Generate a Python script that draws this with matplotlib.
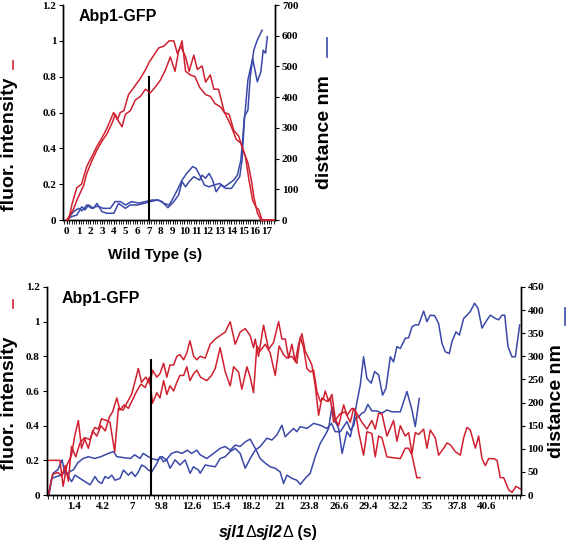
import numpy as np
import matplotlib
matplotlib.use('Agg')
import matplotlib.pyplot as plt
from matplotlib.lines import Line2D
from matplotlib.offsetbox import TextArea, HPacker, AnchoredOffsetbox

plt.rcParams['font.family'] = 'Liberation Serif'
plt.rcParams['font.weight'] = 'bold'

RED = '#cf2030'
BLUE = '#3a48a8'

#----------------------------------------
# Wild type (top panel): fluorescence intensity (left) and distance nm (right)
wt_red1_t = [0, 0.15, 0.45, 0.85, 1.25, 1.7, 2.1, 2.55, 3.0, 3.4, 3.98, 4.3,
             4.55, 4.85, 5.25, 5.7, 6.25, 6.7, 7.0, 7.4, 7.8, 8.25, 8.7, 9.1,
             9.4, 9.7, 10.1, 10.4, 10.8, 11.1, 11.5, 11.8, 12.2, 12.5, 12.9,
             13.4, 13.8, 14.2, 14.6, 14.9, 15.2, 15.5, 15.8, 16.1, 16.3, 16.6,
             17.6]
wt_red1 = [0, 0.0, 0.09, 0.18, 0.2, 0.3, 0.35, 0.41, 0.46, 0.51, 0.6, 0.56,
           0.6, 0.61, 0.7, 0.74, 0.79, 0.84, 0.88, 0.92, 0.96, 0.97, 1.0, 1.0,
           0.93, 0.97, 0.91, 0.83, 0.92, 0.84, 0.86, 0.77, 0.81, 0.73, 0.73,
           0.6, 0.59, 0.5, 0.47, 0.41, 0.35, 0.22, 0.11, 0.07, 0.06, 0.0, 0.0]

wt_red2_t = [0, 0.57, 0.85, 1.13, 1.42, 1.7, 2.13, 2.56, 2.99, 3.41, 3.84,
             4.12, 4.41, 4.7, 4.98, 5.4, 5.83, 6.26, 6.69, 7.1, 7.5, 7.95, 8.4,
             8.8, 9.2, 9.5, 9.8, 10.1, 10.5, 10.9, 11.3, 11.8, 12.2, 12.6,
             13.1, 13.5, 14.0, 14.4, 14.8, 15.1, 15.4, 15.7, 15.9, 16.2, 16.5,
             17.6]
wt_red2 = [0, 0.06, 0.11, 0.15, 0.19, 0.26, 0.33, 0.39, 0.44, 0.48, 0.54,
           0.59, 0.55, 0.52, 0.59, 0.61, 0.67, 0.69, 0.73, 0.71, 0.74, 0.78,
           0.84, 0.91, 0.83, 0.94, 1.0, 0.83, 0.81, 0.80, 0.74, 0.70, 0.69,
           0.65, 0.63, 0.59, 0.52, 0.45, 0.43, 0.37, 0.32, 0.22, 0.13, 0.04,
           0.0, 0.0]

wt_blue1_t = [0, 0.57, 1.0, 1.3, 1.7, 2.1, 2.6, 3.1, 3.7, 4.1, 4.55, 5.0, 5.5,
              6.1, 6.7, 7.25, 7.8, 8.25, 8.7, 8.95, 9.4, 9.8, 10.2, 10.7,
              11.0, 11.3, 11.7, 12.1, 12.5, 13.0, 13.4, 13.8, 14.2, 14.5,
              14.8, 14.95, 15.1, 15.4, 15.6, 15.9, 16.2, 16.6]
wt_blue1 = [0, 27, 38, 30, 49, 38, 45, 38, 38, 60, 60, 49, 60, 55, 60, 65, 65,
            54, 49, 65, 98, 130, 152, 174, 168, 146, 114, 108, 114, 119, 108,
            119, 130, 146, 195, 260, 336, 358, 467, 553, 586, 618]

wt_blue2_t = [0, 0.4, 0.85, 1.27, 1.56, 1.85, 2.27, 2.56, 3.0, 3.4, 4.0, 4.4,
              4.98, 5.4, 6.0, 6.55, 7.1, 7.7, 8.1, 8.6, 9.1, 9.5, 9.8, 10.1,
              10.4, 10.8, 11.3, 11.5, 11.8, 12.1, 12.4, 12.7, 13.1, 13.5,
              14.0, 14.4, 14.7, 14.9, 15.1, 15.4, 15.8, 16.2, 16.5, 16.7,
              16.9, 17.05]
wt_blue2 = [0, 11, 16, 43, 33, 49, 38, 54, 27, 22, 22, 54, 38, 49, 49, 54, 60,
            65, 60, 40, 60, 81, 125, 108, 125, 141, 130, 146, 136, 152, 130,
            92, 114, 103, 103, 125, 141, 195, 325, 456, 526, 450, 483, 553,
            543, 597]

wt_marker_t = 7.0
wt_marker_top = 0.8
wt_ticks = list(range(0, 18))

#----------------------------------------
# sjl1 sjl2 mutant (bottom panel)
mut_red1_t = [-1.16, -0.4, 0.1, 0.4, 0.75, 1.2, 1.5, 1.85, 2.15, 2.5, 2.95,
              3.4, 3.75, 4.05, 4.5, 4.85, 5.3, 5.65, 6.1, 6.45, 6.9, 7.25,
              7.55, 7.85, 8.25, 8.65, 8.9, 9.3, 9.6, 9.95, 10.25, 10.55, 10.9,
              11.2, 11.5, 11.85, 12.15, 12.45, 12.8, 13.1, 13.42, 13.9, 14.37,
              14.85, 15.32, 15.8, 16.27, 16.75, 17.22, 17.7, 18.17, 18.49,
              18.65, 18.96, 19.44, 19.92, 20.39, 20.87, 21.18, 21.5, 21.82,
              22.13, 22.45, 22.77, 23.08, 23.4, 23.72, 24.03, 24.35, 24.67,
              24.98, 25.46, 25.78, 26.1, 26.73, 27.2, 27.68, 28.0, 28.31,
              28.78, 29.26, 29.73, 30.05, 30.37, 30.68, 31.16, 31.79, 32.11,
              32.43, 32.9, 33.22, 33.54, 33.85, 34.17, 34.65, 34.96, 35.28,
              35.75, 36.07, 36.55, 36.86, 37.18, 37.66, 38.13, 38.45, 38.76,
              39.08, 39.56, 39.87, 40.19, 40.51, 40.82, 41.3, 41.62, 41.93,
              42.25, 42.73, 43.04, 43.42, 43.83]
mut_red1 = [0.20, 0.20, 0.20, 0.05, 0.17, 0.23, 0.34, 0.43, 0.27, 0.33, 0.32,
            0.39, 0.38, 0.44, 0.43, 0.42, 0.25, 0.50, 0.49, 0.53, 0.58, 0.66,
            0.73, 0.65, 0.68, 0.64, 0.72, 0.68, 0.70, 0.76, 0.68, 0.75, 0.75,
            0.80, 0.81, 0.78, 0.82, 0.89, 0.80, 0.78, 0.80, 0.79, 0.87, 0.90,
            0.92, 0.94, 1.0, 0.87, 0.94, 0.96, 0.92, 0.85, 0.90, 0.80, 0.98,
            0.84, 0.88, 1.0, 0.90, 0.90, 0.79, 0.87, 0.77, 0.87, 0.93, 0.83,
            0.79, 0.75, 0.63, 0.46, 0.56, 0.54, 0.56, 0.42, 0.47, 0.48, 0.42,
            0.50, 0.47, 0.42, 0.38, 0.43, 0.38, 0.47, 0.47, 0.34, 0.43, 0.31,
            0.40, 0.34, 0.36, 0.24, 0.36, 0.35, 0.38, 0.27, 0.375, 0.33, 0.23,
            0.27, 0.30, 0.29, 0.25, 0.23, 0.33, 0.39, 0.375, 0.27, 0.34, 0.21,
            0.17, 0.21, 0.21, 0.20, 0.10, 0.10, 0.03, 0.015, 0.05, 0.035]

mut_red2_t = [-1.0, -0.6, -0.1, 0.3, 0.6, 0.9, 1.2, 1.6, 2.0, 2.4, 2.8, 3.2,
              3.6, 4.0, 4.4, 4.8, 5.1, 5.5, 5.8, 6.2, 6.6, 7.0, 7.4, 7.8, 8.2,
              8.6, 8.9, 9.3, 9.6, 9.95, 10.25, 10.55, 10.9, 11.2, 11.5, 11.85,
              12.15, 12.45, 12.8, 13.1, 13.45, 13.73, 14.05, 14.5, 14.85,
              15.32, 15.8, 16.27, 16.6, 17.06, 17.38, 17.86, 18.17, 18.49,
              18.8, 19.12, 19.6, 20.07, 20.55, 20.92, 21.34, 21.66, 22.13,
              22.6, 22.93, 23.24, 23.56, 23.87, 24.2, 24.5, 24.83, 25.14, 25.3,
              25.62, 25.94, 26.25, 26.57, 27.05, 27.36, 27.84, 28.15, 28.47,
              28.94, 29.26, 29.73, 30.05, 30.37, 30.68, 31.16, 32.43, 32.9,
              33.22, 33.54, 34.0, 34.3]
mut_red2 = [0.0, 0.12, 0.13, 0.11, 0.17, 0.08, 0.28, 0.22, 0.30, 0.33, 0.27,
            0.37, 0.34, 0.40, 0.37, 0.45, 0.48, 0.56, 0.49, 0.52, 0.50, 0.55,
            0.60, 0.64, 0.62, 0.68, 0.53, 0.59, 0.56, 0.66, 0.58, 0.63, 0.60,
            0.65, 0.69, 0.69, 0.74, 0.66, 0.70, 0.72, 0.68, 0.67, 0.66, 0.69,
            0.73, 0.85, 0.71, 0.63, 0.74, 0.71, 0.61, 0.74, 0.68, 0.59, 0.86,
            0.83, 0.87, 0.82, 0.69, 0.86, 0.81, 0.79, 0.80, 0.76, 0.91, 0.85,
            0.73, 0.71, 0.72, 0.60, 0.54, 0.56, 0.60, 0.54, 0.58, 0.44, 0.40,
            0.52, 0.46, 0.50, 0.49, 0.365, 0.23, 0.365, 0.355, 0.22, 0.34,
            0.33, 0.22, 0.21, 0.27, 0.27, 0.23, 0.10, 0.10]

mut_blue1_t = [-1.0, -0.55, -0.1, 0.3, 0.6, 1.0, 1.4, 1.8, 2.3, 2.8, 3.4, 4.0,
               4.7, 5.2, 5.5, 6.1, 6.8, 7.2, 7.7, 8.0, 8.5, 8.8, 9.3, 9.8,
               10.2, 10.7, 11.2, 11.7, 12.2, 12.6, 13.1, 13.42, 14.05, 14.69,
               15.32, 15.8, 16.27, 16.75, 17.22, 17.7, 18.17, 18.65, 19.12,
               19.6, 20.07, 20.55, 21.02, 21.34, 21.66, 22.13, 22.6, 22.93,
               23.4, 23.87, 24.35, 24.83, 25.3, 25.62, 25.94, 26.25, 26.57,
               26.9, 27.36, 27.68, 28.0, 28.3, 28.63, 28.94, 29.26, 29.67,
               29.99, 30.37, 30.75, 31.07, 31.48, 31.79, 32.11, 32.43, 32.9,
               33.22, 33.54, 33.85, 34.17, 34.65, 34.96, 35.28, 35.69, 36.07,
               36.39, 36.7, 37.08, 37.34, 37.72, 38.04, 38.45, 38.76, 39.08,
               39.49, 39.81, 40.19, 40.67, 40.98, 41.46, 41.77, 42.09, 42.35,
               42.66, 43.04, 43.36, 43.77]
mut_blue1 = [0, 47, 55, 76, 45, 50, 55, 70, 79, 83, 79, 83, 90, 94, 83, 81,
             79, 87, 79, 90, 83, 79, 76, 83, 76, 90, 94, 90, 97, 90, 97, 87,
             79, 90, 101, 105, 97, 108, 105, 115, 121, 101, 79, 69, 61, 58,
             50, 25, 43, 36, 32, 23, 36, 47, 83, 112, 130, 144, 191, 159, 144,
             90, 137, 126, 159, 200, 238, 299, 252, 242, 267, 260, 216, 231,
             299, 288, 321, 317, 339, 340, 364, 368, 368, 398, 375, 389, 388,
             371, 328, 310, 306, 332, 353, 346, 382, 389, 397, 415, 404, 361,
             379, 389, 382, 379, 389, 389, 321, 299, 299, 368]

mut_blue2_t = [-0.94, -0.69, -0.21, 0.26, 0.58, 0.9, 1.21, 1.53, 2.0, 2.48,
               2.96, 3.43, 3.75, 4.07, 4.38, 4.7, 5.02, 5.33, 5.81, 6.13, 6.6,
               6.92, 7.24, 7.55, 7.87, 8.19, 8.5, 8.82, 9.3, 9.61, 9.93, 10.25,
               10.56, 11.04, 11.51, 11.99, 12.46, 12.78, 13.26, 13.42, 13.9,
               14.85, 15.32, 15.8, 16.27, 16.75, 17.22, 17.7, 18.17, 18.65,
               19.12, 19.76, 20.23, 20.71, 21.18, 21.5, 21.97, 22.29, 22.6,
               22.93, 23.56, 24.2, 24.83, 25.46, 25.9, 26.25, 26.73, 27.36,
               27.7, 28.0, 28.15, 28.47, 28.78, 29.04, 29.35, 29.73, 30.2,
               30.68, 31.16, 31.64, 32.43, 33.06, 33.54, 33.85, 34.23]
mut_blue2 = [0, 36, 40, 43, 54, 40, 29, 43, 36, 29, 22, 40, 29, 25, 40, 36,
             43, 32, 36, 54, 43, 50, 40, 50, 65, 61, 54, 50, 68, 83, 72, 76,
             58, 76, 65, 76, 47, 61, 54, 47, 65, 61, 79, 83, 94, 101, 90, 58,
             79, 97, 105, 123, 119, 130, 151, 126, 137, 144, 137, 148, 144,
             155, 151, 144, 155, 137, 137, 159, 140, 150, 166, 169, 177, 180,
             196, 182, 182, 177, 184, 180, 180, 224, 184, 148, 209]

mut_marker_t = 8.75
mut_marker_top = 0.78
mut_ticks = [1.4, 4.2, 7, 9.8, 12.6, 15.4, 18.2, 21, 23.8, 26.6, 29.4, 32.2,
             35, 37.8, 40.6]
mut_tick_labels = ['1.4', '4.2', '7', '9.8', '12.6', '15.4', '18.2', '21',
                   '23.8', '26.6', '29.4', '32.2', '35', '37.8', '40.6']

int_ticks = [0, 0.2, 0.4, 0.6, 0.8, 1.0, 1.2]
int_tick_labels = ['0', '0.2', '0.4', '0.6', '0.8', '1', '1.2']

LW = 1.1


def style_axes(ax, ax2):
  for a in (ax, ax2):
    a.spines['top'].set_visible(False)
    for s in a.spines.values():
      s.set_linewidth(1.0)
    a.tick_params(direction='out', length=3, width=0.8, labelsize=8, pad=2)
    a.tick_params(which='minor', direction='out', length=3, width=0.6)
  ax.set_ylim(0, 1.2)
  ax.set_yticks(int_ticks)
  ax.set_yticklabels(int_tick_labels)
  # curves sit on top of the twin axes
  ax.set_zorder(ax2.get_zorder() + 1)
  ax.patch.set_visible(False)


fig = plt.figure(figsize=(5.7, 5.45), dpi=100)

#----------------------------------------
# Top panel
ax = fig.add_axes([0.111, 0.5963, 0.3714, 0.3945])
ax2 = ax.twinx()
ax.plot(wt_red1_t, wt_red1, color=RED, lw=LW, clip_on=False, zorder=5)
ax.plot(wt_red2_t, wt_red2, color=RED, lw=LW, clip_on=False, zorder=5)
ax2.plot(wt_blue1_t, wt_blue1, color=BLUE, lw=LW)
ax2.plot(wt_blue2_t, wt_blue2, color=BLUE, lw=LW)
ax.plot([wt_marker_t, wt_marker_t], [0, wt_marker_top], color='black', lw=1.5)
style_axes(ax, ax2)
ax.set_xlim(-0.3, 17.7)
ax.set_xticks(wt_ticks)
ax.set_xticks(np.arange(-0.2, 17.7, 0.2), minor=True)
ax2.set_ylim(0, 700)
ax2.set_yticks(range(0, 701, 100))

#----------------------------------------
# Bottom panel
bx = fig.add_axes([0.0819, 0.0917, 0.8313, 0.3817])
bx2 = bx.twinx()
bx.plot(mut_red1_t, mut_red1, color=RED, lw=LW)
bx.plot(mut_red2_t, mut_red2, color=RED, lw=LW)
bx2.plot(mut_blue1_t, mut_blue1, color=BLUE, lw=LW)
bx2.plot(mut_blue2_t, mut_blue2, color=BLUE, lw=LW)
bx.plot([mut_marker_t, mut_marker_t], [0, mut_marker_top], color='black',
        lw=1.5)
style_axes(bx, bx2)
bx.set_xlim(-1.16, 43.85)
bx.set_xticks(mut_ticks)
bx.set_xticklabels(mut_tick_labels)
bx.set_xticks(np.arange(-1.0, 43.9, 0.4), minor=True)
bx2.set_ylim(0, 450)
bx2.set_yticks(range(0, 451, 50))

#----------------------------------------
# Labels
sans = 'Liberation Sans'
fig.text(0.207, 0.9706, 'Abp1-GFP', family=sans, weight='bold', size=11.5,
         ha='center', va='center')
fig.text(0.177, 0.4514, 'Abp1-GFP', family=sans, weight='bold', size=11.5,
         ha='center', va='center')
fig.text(0.0175, 0.7358, 'fluor. intensity', family=sans, weight='bold',
         size=14, rotation=90, ha='center', va='center')
fig.text(0.0175, 0.2606, 'fluor. intensity', family=sans, weight='bold',
         size=14, rotation=90, ha='center', va='center')
fig.text(0.570, 0.7578, 'distance nm', family=sans, weight='bold', size=14,
         rotation=90, ha='center', va='center')
fig.text(0.977, 0.2642, 'distance nm', family=sans, weight='bold', size=14,
         rotation=90, ha='center', va='center')
fig.text(0.272, 0.532, 'Wild Type (s)', family=sans, weight='bold', size=11,
         ha='center', va='center')

# mutant name: italic gene names, upright delta and unit
it = dict(family=sans, weight='bold', style='italic', size=11.5)
up = dict(family=sans, weight='normal', size=11.5)
upb = dict(family=sans, weight='bold', size=11.5)
parts = [TextArea('sjl1', textprops=it), TextArea('\u0394', textprops=up),
         TextArea('sjl2', textprops=it), TextArea('\u0394', textprops=up),
         TextArea(' (s)', textprops=upb)]
box = HPacker(children=parts, pad=0, sep=0, align='baseline')
anchored = AnchoredOffsetbox(loc='center', child=box, frameon=False,
                             bbox_to_anchor=(0.470, 0.0235),
                             bbox_transform=fig.transFigure, borderpad=0,
                             pad=0)
fig.add_artist(anchored)

# colour keys next to the axis titles
for x, y0, y1, c in [(0.0223, 0.8734, 0.888, RED),
                     (0.0223, 0.4349, 0.4495, RED),
                     (0.573, 0.895, 0.930, BLUE),
                     (0.991, 0.4037, 0.4349, BLUE)]:
  fig.add_artist(Line2D([x, x], [y0, y1], color=c, lw=1.2,
                        transform=fig.transFigure))

fig.savefig('out.png', dpi=100)
